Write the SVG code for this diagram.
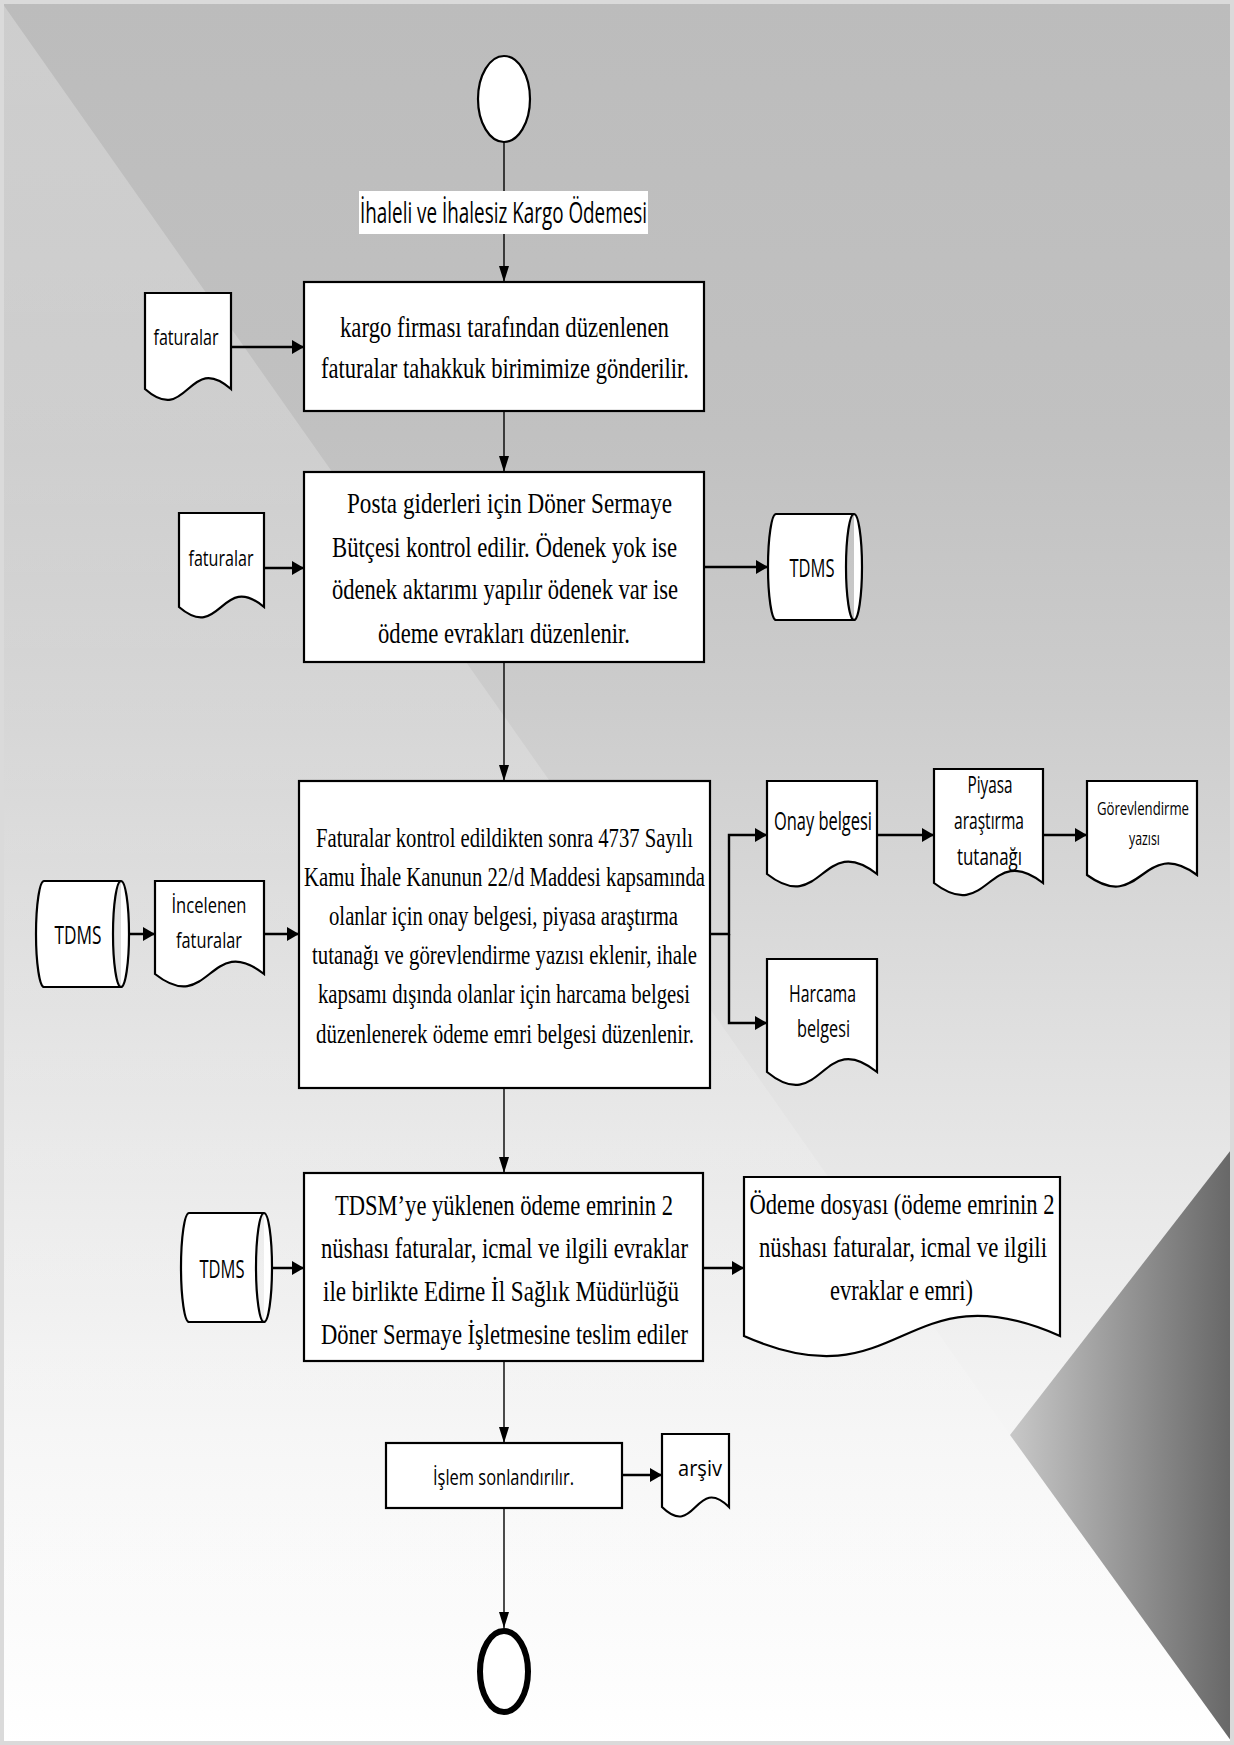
<svg xmlns="http://www.w3.org/2000/svg" width="1234" height="1745" viewBox="0 0 1234 1745">
  <defs>
    <linearGradient id="bgFade" x1="0" y1="0" x2="0" y2="1">
      <stop offset="0" stop-color="#bcbcbc"/>
      <stop offset="0.25" stop-color="#c1c1c1"/>
      <stop offset="0.4" stop-color="#cccccc"/>
      <stop offset="0.55" stop-color="#dbdbdb"/>
      <stop offset="0.68" stop-color="#e8e8e8"/>
      <stop offset="0.82" stop-color="#f5f5f5"/>
      <stop offset="1" stop-color="#ffffff"/>
    </linearGradient>
    <linearGradient id="wedgeFade" x1="0" y1="0" x2="0" y2="1">
      <stop offset="0" stop-color="#fff" stop-opacity="0.26"/>
      <stop offset="0.6" stop-color="#fff" stop-opacity="0.16"/>
      <stop offset="1" stop-color="#fff" stop-opacity="0.1"/>
    </linearGradient>
    <linearGradient id="darkFacet" gradientUnits="userSpaceOnUse" x1="1010" y1="0" x2="1234" y2="0">
      <stop offset="0" stop-color="#c8c8c8"/>
      <stop offset="1" stop-color="#666666"/>
    </linearGradient>
    <marker id="arrowThin" markerUnits="userSpaceOnUse" markerWidth="16" markerHeight="10" refX="16" refY="5" orient="auto">
      <path d="M0,0 L16,5 L0,10 Z" fill="#000"/>
    </marker>
    <marker id="arrowBold" markerUnits="userSpaceOnUse" markerWidth="12" markerHeight="14" refX="12" refY="7" orient="auto">
      <path d="M0,0 L12,7 L0,14 Z" fill="#000"/>
    </marker>
    <style>
      .shape { fill: #fff; stroke: #000; stroke-width: 2.2; }
      .flow { fill: none; stroke: #000; stroke-width: 1.4; marker-end: url(#arrowThin); }
      .side { fill: none; stroke: #000; stroke-width: 2.4; marker-end: url(#arrowBold); }
      .serif { font-family: "Liberation Serif", "Times New Roman", serif; fill: #000; text-anchor: middle; }
      .sans { font-family: "Open Sans", "Liberation Sans", sans-serif; fill: #000; text-anchor: middle; }
    </style>
  </defs>

  <!-- page background -->
  <g id="background">
    <rect x="0" y="0" width="1234" height="1745" fill="url(#bgFade)"/>
    <polygon points="0,0 1010,1435 1234,1745 0,1745" fill="url(#wedgeFade)"/>
    <polygon points="1234,1146 1010,1435 1234,1745" fill="url(#darkFacet)"/>
    <rect x="0" y="0" width="1234" height="1745" fill="none" stroke="#dadada" stroke-width="8"/>
  </g>

  <!-- connectors -->
  <g id="connectors">
    <path class="flow" d="M504,142 V282"/>
    <path class="flow" d="M504,411 V472"/>
    <path class="flow" d="M504,662 V781"/>
    <path class="flow" d="M504,1088 V1173"/>
    <path class="flow" d="M504,1361 V1443"/>
    <path class="flow" d="M504,1508 V1628"/>
    <path class="side" d="M231,347 H304"/>
    <path class="side" d="M264,568 H304"/>
    <path class="side" d="M704,567 H768"/>
    <path class="side" d="M122,934 H155"/>
    <path class="side" d="M264,934 H299"/>
    <path class="side" d="M710,934 H729 V835 H767"/>
    <path class="side" d="M729,934 V1023 H767"/>
    <path class="side" d="M877,835 H934"/>
    <path class="side" d="M1043,835 H1087"/>
    <path class="side" d="M264,1268 H304"/>
    <path class="side" d="M703,1268 H744"/>
    <path class="side" d="M622,1475 H662"/>
  </g>

  <!-- text is drawn tall and narrow: each line is stretched vertically about its own baseline -->

  <!-- start -->
  <g id="start">
    <ellipse class="shape" cx="504" cy="99" rx="26" ry="43" stroke-width="1.6"/>
  </g>

  <g id="title">
    <rect x="359" y="191" width="289" height="43" fill="#fff"/>
    <text class="sans" x="503.5" y="223" transform="matrix(1 0 0 1.45 0 -100.35)" font-size="20" textLength="287" lengthAdjust="spacingAndGlyphs">İhaleli ve İhalesiz Kargo Ödemesi</text>
  </g>

  <!-- step 1 -->
  <g id="doc-faturalar-1">
    <path class="shape" d="M145,293 H231 V389 C188,351 188,427 145,389 Z"/>
    <text class="sans" x="186" y="345" transform="matrix(1 0 0 1.45 0 -155.25)" font-size="15" textLength="65" lengthAdjust="spacingAndGlyphs">faturalar</text>
  </g>
  <g id="step-1">
    <rect class="shape" x="304" y="282" width="400" height="129"/>
    <text class="serif" x="504.5" y="337" transform="matrix(1 0 0 1.3 0 -101.1)" font-size="22.5" textLength="329" lengthAdjust="spacingAndGlyphs">kargo firması tarafından düzenlenen</text>
    <text class="serif" x="505" y="378" transform="matrix(1 0 0 1.3 0 -113.4)" font-size="22.5" textLength="368" lengthAdjust="spacingAndGlyphs">faturalar tahakkuk birimimize gönderilir.</text>
  </g>

  <!-- step 2 -->
  <g id="doc-faturalar-2">
    <path class="shape" d="M179,513 H264 V607 C221,571 221,643 179,607 Z"/>
    <text class="sans" x="221" y="566" transform="matrix(1 0 0 1.45 0 -254.7)" font-size="15" textLength="65" lengthAdjust="spacingAndGlyphs">faturalar</text>
  </g>
  <g id="step-2">
    <rect class="shape" x="304" y="472" width="400" height="190"/>
    <text class="serif" x="509.5" y="513" transform="matrix(1 0 0 1.3 0 -153.9)" font-size="22.5" textLength="325" lengthAdjust="spacingAndGlyphs">Posta giderleri için Döner Sermaye</text>
    <text class="serif" x="504.5" y="557" transform="matrix(1 0 0 1.3 0 -167.1)" font-size="22.5" textLength="345" lengthAdjust="spacingAndGlyphs">Bütçesi kontrol edilir. Ödenek yok ise</text>
    <text class="serif" x="505" y="599" transform="matrix(1 0 0 1.3 0 -179.7)" font-size="22.5" textLength="346" lengthAdjust="spacingAndGlyphs">ödenek aktarımı yapılır ödenek var ise</text>
    <text class="serif" x="504" y="643" transform="matrix(1 0 0 1.3 0 -192.9)" font-size="22.5" textLength="252" lengthAdjust="spacingAndGlyphs">ödeme evrakları düzenlenir.</text>
  </g>
  <g id="store-tdms-1">
    <path class="shape" d="M776,514 H854 A8,53 0 0 1 854,620 H776 A8,53 0 0 1 776,514 Z M854,514 A8,53 0 0 0 854,620"/>
    <text class="sans" x="812" y="577" transform="matrix(1 0 0 1.45 0 -259.65)" font-size="17.5" textLength="45" lengthAdjust="spacingAndGlyphs">TDMS</text>
  </g>

  <!-- step 3 -->
  <g id="store-tdms-2">
    <path class="shape" d="M44,881 H121 A8,53 0 0 1 121,987 H44 A8,53 0 0 1 44,881 Z M121,881 A8,53 0 0 0 121,987"/>
    <text class="sans" x="78" y="944" transform="matrix(1 0 0 1.45 0 -424.8)" font-size="17.5" textLength="47" lengthAdjust="spacingAndGlyphs">TDMS</text>
  </g>
  <g id="doc-incelenen">
    <path class="shape" d="M155,881 H264 V974 C209.5,931 209.5,1017 155,974 Z"/>
    <text class="sans" x="209" y="913" transform="matrix(1 0 0 1.45 0 -410.85)" font-size="15" textLength="75" lengthAdjust="spacingAndGlyphs">İncelenen</text>
    <text class="sans" x="209" y="948" transform="matrix(1 0 0 1.45 0 -426.6)" font-size="15" textLength="66" lengthAdjust="spacingAndGlyphs">faturalar</text>
  </g>
  <g id="step-3">
    <rect class="shape" x="299" y="781" width="411" height="307"/>
    <text class="serif" x="504.5" y="847" transform="matrix(1 0 0 1.3 0 -254.1)" font-size="21" textLength="377" lengthAdjust="spacingAndGlyphs">Faturalar kontrol edildikten sonra 4737 Sayılı</text>
    <text class="serif" x="504.5" y="886" transform="matrix(1 0 0 1.3 0 -265.8)" font-size="21" textLength="401" lengthAdjust="spacingAndGlyphs">Kamu İhale Kanunun 22/d Maddesi kapsamında</text>
    <text class="serif" x="503.5" y="925" transform="matrix(1 0 0 1.3 0 -277.5)" font-size="21" textLength="349" lengthAdjust="spacingAndGlyphs">olanlar için onay belgesi, piyasa araştırma</text>
    <text class="serif" x="504.5" y="964" transform="matrix(1 0 0 1.3 0 -289.2)" font-size="21" textLength="385" lengthAdjust="spacingAndGlyphs">tutanağı ve görevlendirme yazısı eklenir, ihale</text>
    <text class="serif" x="504" y="1003" transform="matrix(1 0 0 1.3 0 -300.9)" font-size="21" textLength="372" lengthAdjust="spacingAndGlyphs">kapsamı dışında olanlar için harcama belgesi</text>
    <text class="serif" x="505" y="1043" transform="matrix(1 0 0 1.3 0 -312.9)" font-size="21" textLength="378" lengthAdjust="spacingAndGlyphs">düzenlenerek ödeme emri belgesi düzenlenir.</text>
  </g>
  <g id="doc-onay">
    <path class="shape" d="M767,781 H877 V874 C822,831 822,917 767,874 Z"/>
    <text class="sans" x="823" y="830" transform="matrix(1 0 0 1.45 0 -373.5)" font-size="17" textLength="98" lengthAdjust="spacingAndGlyphs">Onay belgesi</text>
  </g>
  <g id="doc-piyasa">
    <path class="shape" d="M934,769 H1043 V883 C988.5,841 988.5,925 934,883 Z"/>
    <text class="sans" x="990" y="793" transform="matrix(1 0 0 1.45 0 -356.85)" font-size="16" textLength="45" lengthAdjust="spacingAndGlyphs">Piyasa</text>
    <text class="sans" x="989" y="829" transform="matrix(1 0 0 1.45 0 -373.05)" font-size="16" textLength="70" lengthAdjust="spacingAndGlyphs">araştırma</text>
    <text class="sans" x="989.5" y="865" transform="matrix(1 0 0 1.45 0 -389.25)" font-size="16" textLength="65" lengthAdjust="spacingAndGlyphs">tutanağı</text>
  </g>
  <g id="doc-gorevlendirme">
    <path class="shape" d="M1087,781 H1197 V875 C1142,835 1142,915 1087,875 Z"/>
    <text class="sans" x="1143" y="815" transform="matrix(1 0 0 1.45 0 -366.75)" font-size="13" textLength="92" lengthAdjust="spacingAndGlyphs">Görevlendirme</text>
    <text class="sans" x="1144.5" y="845" transform="matrix(1 0 0 1.45 0 -380.25)" font-size="13" textLength="31" lengthAdjust="spacingAndGlyphs">yazısı</text>
  </g>
  <g id="doc-harcama">
    <path class="shape" d="M767,959 H877 V1072 C822,1027 822,1117 767,1072 Z"/>
    <text class="sans" x="822.5" y="1002" transform="matrix(1 0 0 1.45 0 -450.9)" font-size="16.5" textLength="67" lengthAdjust="spacingAndGlyphs">Harcama</text>
    <text class="sans" x="823.5" y="1037" transform="matrix(1 0 0 1.45 0 -466.65)" font-size="16.5" textLength="53" lengthAdjust="spacingAndGlyphs">belgesi</text>
  </g>

  <!-- step 4 -->
  <g id="store-tdms-3">
    <path class="shape" d="M189,1213 H264 A8,54.5 0 0 1 264,1322 H189 A8,54.5 0 0 1 189,1213 Z M264,1213 A8,54.5 0 0 0 264,1322"/>
    <text class="sans" x="222" y="1278" transform="matrix(1 0 0 1.45 0 -575.1)" font-size="17.5" textLength="45" lengthAdjust="spacingAndGlyphs">TDMS</text>
  </g>
  <g id="step-4">
    <rect class="shape" x="304" y="1173" width="399" height="188"/>
    <text class="serif" x="504" y="1215" transform="matrix(1 0 0 1.3 0 -364.5)" font-size="22.5" textLength="338" lengthAdjust="spacingAndGlyphs">TDSM’ye yüklenen ödeme emrinin 2</text>
    <text class="serif" x="504.5" y="1258" transform="matrix(1 0 0 1.3 0 -377.4)" font-size="22.5" textLength="367" lengthAdjust="spacingAndGlyphs">nüshası faturalar, icmal ve ilgili evraklar</text>
    <text class="serif" x="501" y="1301" transform="matrix(1 0 0 1.3 0 -390.3)" font-size="22.5" textLength="356" lengthAdjust="spacingAndGlyphs">ile birlikte Edirne İl Sağlık Müdürlüğü</text>
    <text class="serif" x="504.5" y="1344" transform="matrix(1 0 0 1.3 0 -403.2)" font-size="22.5" textLength="367" lengthAdjust="spacingAndGlyphs">Döner Sermaye İşletmesine teslim ediler</text>
  </g>
  <g id="doc-odeme-dosyasi">
    <path class="shape" d="M744,1177 H1060 V1336 C902,1266 902,1406 744,1336 Z"/>
    <text class="serif" x="902" y="1214" transform="matrix(1 0 0 1.3 0 -364.2)" font-size="22" textLength="305" lengthAdjust="spacingAndGlyphs">Ödeme dosyası (ödeme emrinin 2</text>
    <text class="serif" x="903" y="1257" transform="matrix(1 0 0 1.3 0 -377.1)" font-size="22" textLength="288" lengthAdjust="spacingAndGlyphs">nüshası faturalar, icmal ve ilgili</text>
    <text class="serif" x="901.5" y="1300" transform="matrix(1 0 0 1.3 0 -390)" font-size="22" textLength="143" lengthAdjust="spacingAndGlyphs">evraklar e emri)</text>
  </g>

  <!-- closing -->
  <g id="step-5">
    <rect class="shape" x="386" y="1443" width="236" height="65"/>
    <text class="sans" x="503.5" y="1485" transform="matrix(1 0 0 1.45 0 -668.25)" font-size="15" textLength="141" lengthAdjust="spacingAndGlyphs">İşlem sonlandırılır.</text>
  </g>
  <g id="doc-arsiv">
    <path class="shape" d="M662,1434 H729 V1507 C695.5,1474 695.5,1540 662,1507 Z"/>
    <text class="sans" x="700" y="1476" transform="matrix(1 0 0 1.45 0 -664.2)" font-size="14.5" textLength="44" lengthAdjust="spacingAndGlyphs">arşiv</text>
  </g>
  <g id="end">
    <ellipse cx="504" cy="1671.5" rx="24" ry="40.5" fill="#fff" stroke="#000" stroke-width="6"/>
  </g>
</svg>
